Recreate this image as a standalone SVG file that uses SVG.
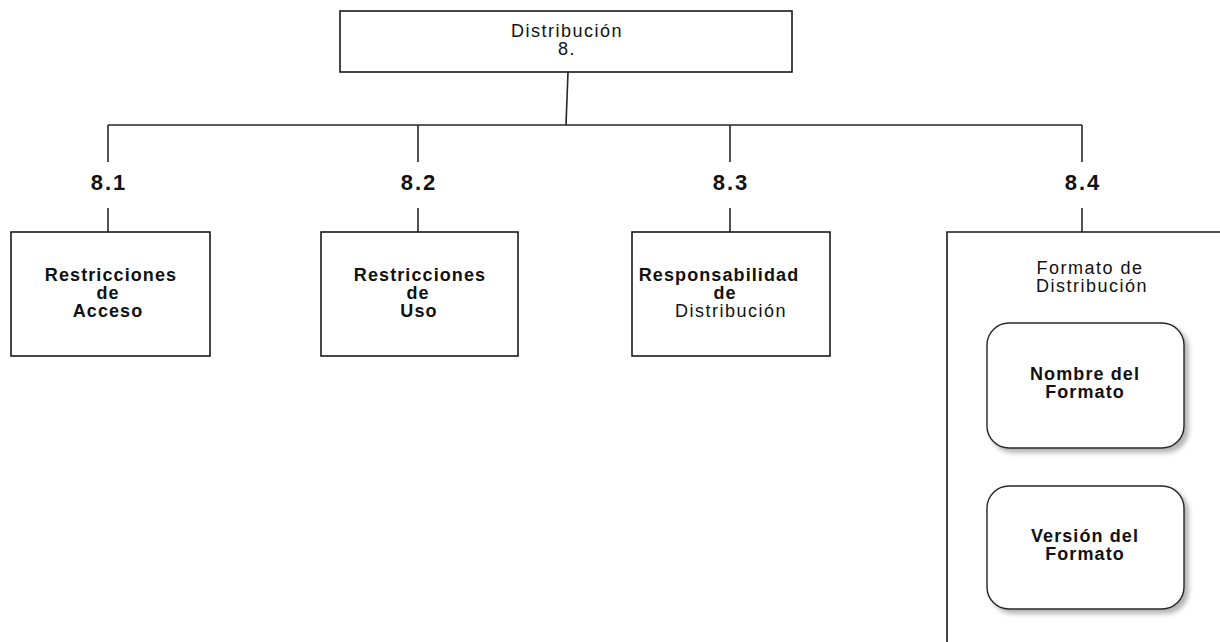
<svg xmlns="http://www.w3.org/2000/svg" width="1220" height="642" viewBox="0 0 1220 642">
<style>
.box{fill:#fff;stroke:#1a1a1a;stroke-width:1.6}
.rbox{fill:#fff;stroke:#262626;stroke-width:1.4}
.ln{stroke:#262626;stroke-width:1.6;fill:none}
text{font-family:"Liberation Sans",Arial,sans-serif;font-size:18px;fill:#111;text-anchor:middle}
.b{font-weight:bold;letter-spacing:1.1px}
.r{letter-spacing:1.5px}
.num{font-weight:bold;font-size:22px;letter-spacing:2px}
</style>
<defs>
<filter id="sh" x="-10%" y="-10%" width="130%" height="130%">
<feGaussianBlur in="SourceAlpha" stdDeviation="2.5"/>
<feOffset dx="4" dy="4" result="o"/>
<feComponentTransfer><feFuncA type="linear" slope="0.3"/></feComponentTransfer>
<feMerge><feMergeNode/><feMergeNode in="SourceGraphic"/></feMerge>
</filter>
</defs>
<g id="connectors">
<line class="ln" x1="568" y1="72" x2="566" y2="125"/>
<line class="ln" x1="108" y1="125" x2="1082" y2="125"/>
<line class="ln" x1="108" y1="125" x2="108" y2="162"/>
<line class="ln" x1="418" y1="125" x2="418" y2="162"/>
<line class="ln" x1="730" y1="125" x2="730" y2="162"/>
<line class="ln" x1="1082" y1="125" x2="1082" y2="162"/>
<line class="ln" x1="108" y1="208" x2="108" y2="232"/>
<line class="ln" x1="418" y1="208" x2="418" y2="232"/>
<line class="ln" x1="730" y1="208" x2="730" y2="232"/>
<line class="ln" x1="1082" y1="208" x2="1082" y2="232"/>
</g>
<g id="labels">
<text class="num" x="109" y="190">8.1</text>
<text class="num" x="419" y="190">8.2</text>
<text class="num" x="731" y="190">8.3</text>
<text class="num" x="1083" y="190">8.4</text>
</g>
<g id="n8">
<rect class="box" x="340" y="11" width="452" height="61"/>
<text class="r" x="567" y="37">Distribución</text>
<text class="r" x="567" y="55">8.</text>
</g>
<g id="n81">
<rect class="box" x="11" y="232" width="199" height="124"/>
<text class="b" x="111" y="281">Restricciones</text>
<text class="b" x="108" y="299">de</text>
<text class="b" x="108" y="317">Acceso</text>
</g>
<g id="n82">
<rect class="box" x="321" y="232" width="197" height="124"/>
<text class="b" x="420" y="281">Restricciones</text>
<text class="b" x="418" y="299">de</text>
<text class="b" x="419" y="317">Uso</text>
</g>
<g id="n83">
<rect class="box" x="632" y="232" width="198" height="124"/>
<text class="b" x="719" y="281">Responsabilidad</text>
<text class="b" x="725" y="299">de</text>
<text class="r" x="731" y="317">Distribución</text>
</g>
<g id="n84">
<path class="box" d="M1221,232 H947 V643"/>
<text class="r" x="1090" y="274">Formato de</text>
<text class="r" x="1092" y="292">Distribución</text>
</g>
<g id="n841">
<rect class="rbox" x="987" y="323" width="197" height="125" rx="22" filter="url(#sh)"/>
<text class="b" x="1085" y="380">Nombre del</text>
<text class="b" x="1085" y="398">Formato</text>
</g>
<g id="n842">
<rect class="rbox" x="987" y="486" width="197" height="123" rx="22" filter="url(#sh)"/>
<text class="b" x="1085" y="542">Versión del</text>
<text class="b" x="1085" y="560">Formato</text>
</g>
</svg>
